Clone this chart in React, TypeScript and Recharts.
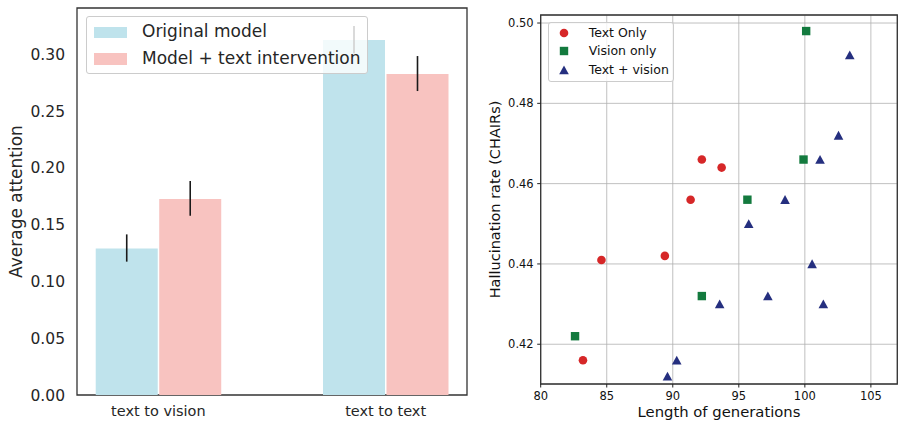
import React from 'react';
import {
  BarChart, Bar, XAxis, YAxis, ErrorBar, ReferenceArea,
  ScatterChart, Scatter, CartesianGrid, Label,
} from 'recharts';

// left panel: average attention
const categories = ['text to vision', 'text to text'];
const originalMean = [0.129, 0.3125];
const originalErr = [[0.0116, 0.0124], [0.0117, 0.0123]];
const interventionMean = [0.1725, 0.2826];
const interventionErr = [[0.0147, 0.0159], [0.015, 0.0158]];
const attentionTicks = [0, 0.05, 0.1, 0.15, 0.2, 0.25, 0.3];

// right panel: hallucination vs length
const textOnlyLen = [83.2, 84.6, 89.4, 91.35, 92.2, 93.7];
const textOnlyRate = [0.416, 0.441, 0.442, 0.456, 0.466, 0.464];
const visionOnlyLen = [82.6, 92.2, 95.65, 99.9, 100.1];
const visionOnlyRate = [0.422, 0.432, 0.456, 0.466, 0.498];
const bothLen = [89.6, 90.3, 93.55, 95.75, 97.2, 98.5, 100.55, 101.15, 101.4, 102.55, 103.4];
const bothRate = [0.412, 0.416, 0.43, 0.45, 0.432, 0.456, 0.44, 0.466, 0.43, 0.472, 0.492];
const lenTicks = [80, 85, 90, 95, 100, 105];
const rateTicks = [0.42, 0.44, 0.46, 0.48, 0.5];

const FONT = '"DejaVu Sans", sans-serif';
const BLUE = '#bfe3ec';
const PINK = '#f8c3c0';
const RED = '#d62728';
const GREEN = '#137a3e';
const NAVY = '#252f7f';

const barData = categories.map((name, i) => ({
  idx: i,
  name,
  original: originalMean[i],
  originalErr: originalErr[i],
  intervention: interventionMean[i],
  interventionErr: interventionErr[i],
}));

const toPoints = (xs: number[], ys: number[]) => xs.map((x, i) => ({ x, y: ys[i] }));

const Circle = (p: any) => <circle cx={p.cx} cy={p.cy} r={4.3} fill={RED} />;
const Square = (p: any) => <rect x={p.cx - 4.2} y={p.cy - 4.2} width={8.4} height={8.4} fill={GREEN} />;
const Triangle = (p: any) => (
  <polygon
    points={`${p.cx},${p.cy - 4.6} ${p.cx - 4.8},${p.cy + 4.2} ${p.cx + 4.8},${p.cy + 4.2}`}
    fill={NAVY}
  />
);

const X_DOM: [number, number] = [-0.358, 1.358];
const A_DOM: [number, number] = [0, 0.3407];
const L_DOM: [number, number] = [80, 107];
const R_DOM: [number, number] = [0.4101, 0.502];

export default function App() {
  return (
    <div style={{ position: 'absolute', left: 0, top: 0, width: 901, height: 421, background: '#fff', fontFamily: FONT }}>
      <div style={{ position: 'absolute', left: 0, top: 0 }}>
        <BarChart width={480} height={421} data={barData} margin={{ top: 8, right: 13, bottom: 0, left: 0 }} barGap={1.5}>
          <XAxis
            dataKey="idx"
            type="number"
            domain={X_DOM}
            ticks={[0, 1]}
            allowDataOverflow
            tickFormatter={(v: number) => categories[v]}
            height={26}
            tickSize={0}
            tickMargin={11}
            axisLine={false}
            tick={{ fill: '#262626', fontSize: 14.5, fontFamily: FONT }}
          />
          <YAxis
            domain={A_DOM}
            ticks={attentionTicks}
            allowDataOverflow
            tickFormatter={(v: number) => v.toFixed(2)}
            width={77}
            tickSize={0}
            tickMargin={12}
            axisLine={false}
            tick={{ fill: '#262626', fontSize: 15.5, fontFamily: FONT }}
          >
            <Label
              value="Average attention"
              angle={-90}
              position="insideLeft"
              offset={16}
              style={{ textAnchor: 'middle', fill: '#262626', fontSize: 17, fontFamily: FONT }}
            />
          </YAxis>
          <Bar dataKey="original" fill={BLUE} barSize={62} isAnimationActive={false}>
            <ErrorBar dataKey="originalErr" width={0} stroke="#1a1a1a" strokeWidth={1.6} />
          </Bar>
          <Bar dataKey="intervention" fill={PINK} barSize={62} isAnimationActive={false}>
            <ErrorBar dataKey="interventionErr" width={0} stroke="#1a1a1a" strokeWidth={1.6} />
          </Bar>
          <ReferenceArea x1={X_DOM[0]} x2={X_DOM[1]} y1={A_DOM[0]} y2={A_DOM[1]} fill="none" stroke="#333" strokeWidth={1.3} fillOpacity={0} />
        </BarChart>
        <div style={{
          position: 'absolute', left: 86, top: 16, width: 282, height: 58, boxSizing: 'border-box',
          border: '1px solid #cccccc', borderRadius: 3, background: 'rgba(255,255,255,0.8)',
        }}>
          {[{ c: BLUE, t: 'Original model' }, { c: PINK, t: 'Model + text intervention' }].map((e, i) => (
            <div key={i} style={{ position: 'absolute', left: 0, top: 3 + i * 26.7, height: 24, width: '100%' }}>
              <div style={{ position: 'absolute', left: 6.5, top: 6.5, width: 33.5, height: 11.5, background: e.c }} />
              <span style={{ position: 'absolute', left: 55, top: 1, fontSize: 17, color: '#262626', whiteSpace: 'nowrap', lineHeight: '20px' }}>{e.t}</span>
            </div>
          ))}
        </div>
      </div>

      <div style={{ position: 'absolute', left: 480, top: 0 }}>
        <ScatterChart width={421} height={421} margin={{ top: 15, right: 3.7, bottom: 0, left: 0 }}>
          <CartesianGrid stroke="#b0b0b0" strokeWidth={0.8} />
          <XAxis
            dataKey="x"
            type="number"
            domain={L_DOM}
            ticks={lenTicks}
            allowDataOverflow
            height={37}
            tickSize={3.5}
            tickMargin={4.5}
            axisLine={false}
            tickLine={{ stroke: '#222' }}
            tick={{ fill: '#111', fontSize: 11.5, fontFamily: FONT }}
          >
            <Label
              value="Length of generations"
              position="insideBottom"
              offset={4}
              style={{ fill: '#111', fontSize: 14.8, fontFamily: FONT }}
            />
          </XAxis>
          <YAxis
            dataKey="y"
            type="number"
            domain={R_DOM}
            ticks={rateTicks}
            allowDataOverflow
            tickFormatter={(v: number) => v.toFixed(2)}
            width={60.7}
            tickSize={3.5}
            tickMargin={3.5}
            axisLine={false}
            tickLine={{ stroke: '#222' }}
            tick={{ fill: '#111', fontSize: 11.5, fontFamily: FONT }}
          >
            <Label
              value="Hallucination rate (CHAIRs)"
              angle={-90}
              position="insideLeft"
              offset={15}
              style={{ textAnchor: 'middle', fill: '#111', fontSize: 14.5, fontFamily: FONT }}
            />
          </YAxis>
          <Scatter data={toPoints(textOnlyLen, textOnlyRate)} shape={Circle} isAnimationActive={false} />
          <Scatter data={toPoints(visionOnlyLen, visionOnlyRate)} shape={Square} isAnimationActive={false} />
          <Scatter data={toPoints(bothLen, bothRate)} shape={Triangle} isAnimationActive={false} />
          <ReferenceArea x1={L_DOM[0]} x2={L_DOM[1]} y1={R_DOM[0]} y2={R_DOM[1]} fill="none" stroke="#333" strokeWidth={1.3} fillOpacity={0} />
        </ScatterChart>
        <div style={{
          position: 'absolute', left: 67.7, top: 21.7, width: 126.6, height: 60, boxSizing: 'border-box',
          border: '1px solid #cccccc', borderRadius: 3, background: 'rgba(255,255,255,0.8)',
        }}>
          {[
            { t: 'Text Only', m: <circle cx={7} cy={7} r={4.3} fill={RED} /> },
            { t: 'Vision only', m: <rect x={2.8} y={2.8} width={8.4} height={8.4} fill={GREEN} /> },
            { t: 'Text + vision', m: <polygon points="7,2.4 2.2,11.2 11.8,11.2" fill={NAVY} /> },
          ].map((e, i) => (
            <div key={i} style={{ position: 'absolute', left: 0, top: 2 + i * 18.8, height: 17, width: '100%' }}>
              <svg width={14} height={14} style={{ position: 'absolute', left: 8.6, top: 1 }}>{e.m}</svg>
              <span style={{ position: 'absolute', left: 40, top: 0, fontSize: 12.5, color: '#111', whiteSpace: 'nowrap', lineHeight: '16px' }}>{e.t}</span>
            </div>
          ))}
        </div>
      </div>
    </div>
  );
}
